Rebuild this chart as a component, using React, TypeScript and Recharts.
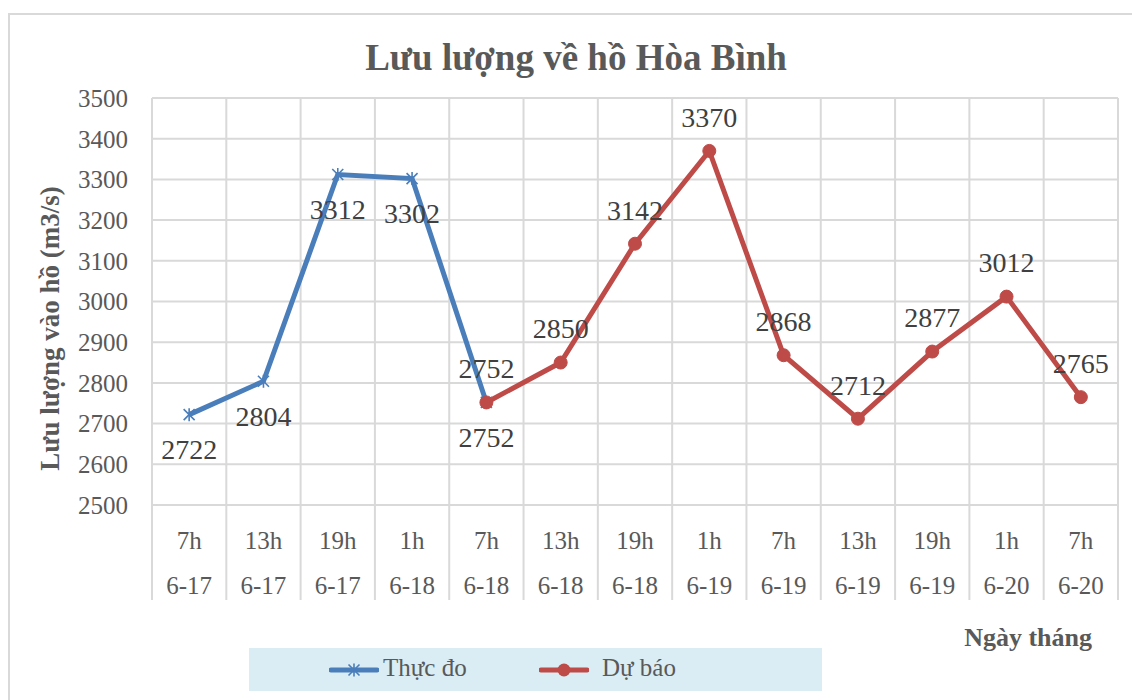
import React from 'react';
import { LineChart, Line, XAxis, YAxis, CartesianGrid, LabelList } from 'recharts';

const hours = ['7h', '13h', '19h', '1h', '7h', '13h', '19h', '1h', '7h', '13h', '19h', '1h', '7h'];
const days = ['6-17', '6-17', '6-17', '6-18', '6-18', '6-18', '6-18', '6-19', '6-19', '6-19', '6-19', '6-20', '6-20'];
const thucDo = [2722, 2804, 3312, 3302, 2752, null, null, null, null, null, null, null, null];
const duBao = [null, null, null, null, 2752, 2850, 3142, 3370, 2868, 2712, 2877, 3012, 2765];
const yTicks = [2500, 2600, 2700, 2800, 2900, 3000, 3100, 3200, 3300, 3400, 3500];

const data = hours.map((h, i) => ({
  cat: `${h} ${days[i]}`,
  thucDo: thucDo[i],
  duBao: duBao[i],
}));

const BLUE = '#4a7ebb';
const RED = '#be4b48';
const GRID = '#d9d9d9';
const TEXT = '#595959';
const FONT = 'Liberation Serif';

const StarDot = (props: any) => {
  const { cx, cy, index } = props;
  if (cx == null || cy == null) return <g key={`s${index}`} />;
  const r = 5.5;
  return (
    <g key={`s${index}`} stroke={BLUE} strokeWidth={1.6}>
      <line x1={cx - r} y1={cy - r} x2={cx + r} y2={cy + r} />
      <line x1={cx - r} y1={cy + r} x2={cx + r} y2={cy - r} />
      <line x1={cx} y1={cy - r - 1} x2={cx} y2={cy + r + 1} />
    </g>
  );
};

const dataLabel = (dy: number) => (props: any) => {
  const { value, index } = props;
  if (value == null) return null;
  const x = props.viewBox?.x ?? props.x;
  const y = props.viewBox?.y ?? props.y;
  return (
    <text key={`l${index}`} x={x} y={y + dy} dy="0.35em" textAnchor="middle"
      fill="#404040" fontSize={28} style={{ fontFamily: FONT }}>
      {value}
    </text>
  );
};

const CatTick = (props: any) => {
  const { x, y, index, width, visibleTicksCount } = props;
  const half = (width || 966) / (visibleTicksCount || 13) / 2;
  const last = index === (visibleTicksCount || 13) - 1;
  return (
    <g>
      <line x1={x - half} y1={y} x2={x - half} y2={y + 95} stroke={GRID} strokeWidth={2} />
      {last && <line x1={x + half} y1={y} x2={x + half} y2={y + 95} stroke={GRID} strokeWidth={2} />}
      <text x={x} y={y + 35} dy="0.35em" textAnchor="middle" fill={TEXT} fontSize={25} style={{ fontFamily: FONT }}>
        {hours[index]}
      </text>
      <text x={x} y={y + 80} dy="0.35em" textAnchor="middle" fill={TEXT} fontSize={25} style={{ fontFamily: FONT }}>
        {days[index]}
      </text>
    </g>
  );
};

export default function App() {
  return (
    <div style={{ position: 'relative', width: 1132, height: 700, overflow: 'hidden', background: '#fff', fontFamily: FONT }}>
      <style>{'body{margin:0}'}</style>
      <div style={{
        position: 'absolute', left: 8, top: 13, right: -10, bottom: -10,
        borderTop: `2px solid ${GRID}`, borderLeft: `2px solid ${GRID}`,
      }} />
      <div style={{
        position: 'absolute', left: 0, top: 36, width: 1152, textAlign: 'center',
        fontWeight: 'bold', fontSize: 37, lineHeight: '44px', color: TEXT,
      }}>
        Lưu lượng về hồ Hòa Bình
      </div>
      <div style={{ position: 'absolute', left: 0, top: 0 }}>
        <LineChart width={1132} height={700} data={data}
          margin={{ top: 98, right: 14, bottom: 100, left: 0 }}>
          <CartesianGrid stroke={GRID} strokeWidth={2}
            verticalCoordinatesGenerator={({ offset }: any) =>
              data.map((_, i) => offset.left + (i * offset.width) / data.length)
                .concat(offset.left + offset.width)} />
          <XAxis dataKey="cat" scale="band" height={95} axisLine={false} tickLine={false}
            tickSize={0} tickMargin={0} interval={0} tick={<CatTick />}
            label={{
              content: (p: any) => {
                const vb = p.viewBox;
                return (
                  <text x={vb.x + vb.width - 26} y={vb.y + vb.height + 37} dy="0.35em" textAnchor="end"
                    fill={TEXT} fontSize={26} fontWeight="bold" style={{ fontFamily: FONT }}>
                    Ngày tháng
                  </text>
                );
              },
            }} />
          <YAxis width={152} domain={[2500, 3500]} ticks={yTicks} axisLine={false} tickLine={false}
            tickSize={0} tickMargin={24} interval={0}
            tick={{ fill: TEXT, fontSize: 25, style: { fontFamily: FONT } }}
            label={{
              content: (p: any) => {
                const vb = p.viewBox;
                const cx = vb.x + 50;
                const cy = vb.y + vb.height / 2 + 27;
                return (
                  <text x={cx} y={cy} dy="0.35em" textAnchor="middle" transform={`rotate(-90 ${cx} ${cy})`}
                    fill={TEXT} fontSize={27} fontWeight="bold" style={{ fontFamily: FONT }}>
                    Lưu lượng vào hồ (m3/s)
                  </text>
                );
              },
            }} />
          <Line dataKey="thucDo" stroke={BLUE} strokeWidth={5} dot={StarDot} activeDot={false}
            isAnimationActive={false}>
            <LabelList dataKey="thucDo" content={dataLabel(35)} />
          </Line>
          <Line dataKey="duBao" stroke={RED} strokeWidth={5} activeDot={false}
            dot={{ r: 6.5, fill: RED, stroke: RED, strokeWidth: 1 }}
            isAnimationActive={false}>
            <LabelList dataKey="duBao" content={dataLabel(-34)} />
          </Line>
        </LineChart>
      </div>
      <div style={{
        position: 'absolute', left: 249, top: 648, width: 573, height: 43, background: '#daedf4',
        fontSize: 25, color: TEXT,
      }}>
        <svg width={50} height={20} style={{ position: 'absolute', left: 80, top: 12 }}>
          <line x1={2} y1={10} x2={48} y2={10} stroke={BLUE} strokeWidth={5} strokeLinecap="round" />
          <StarDot cx={25} cy={10} index={0} />
        </svg>
        <span style={{ position: 'absolute', left: 134, top: 5, lineHeight: '30px' }}>Thực đo</span>
        <svg width={50} height={20} style={{ position: 'absolute', left: 290, top: 12 }}>
          <line x1={2} y1={10} x2={48} y2={10} stroke={RED} strokeWidth={5} strokeLinecap="round" />
          <circle cx={25} cy={10} r={6.5} fill={RED} />
        </svg>
        <span style={{ position: 'absolute', left: 353, top: 5, lineHeight: '30px' }}>Dự báo</span>
      </div>
    </div>
  );
}
